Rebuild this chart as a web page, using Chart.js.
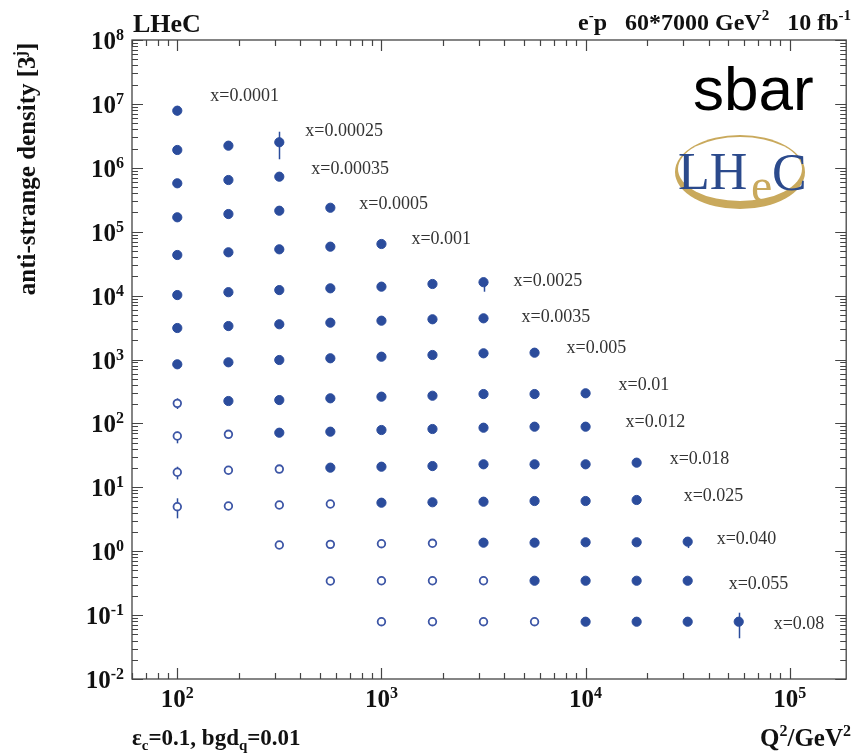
<!DOCTYPE html>
<html>
<head>
<meta charset="utf-8">
<script src="https://cdn.jsdelivr.net/npm/chart.js@4.4.1/dist/chart.umd.min.js"></script>
<style>
html, body { margin: 0; padding: 0; background: #fff; }
canvas { display: block; }
</style>
</head>
<body>
<canvas id="chart" width="852" height="753"></canvas>
<script>
// Q2 grid (GeV^2), one column of points per value
const Q2_BINS = [100, 178, 316, 562, 1000, 1778, 3162, 5623, 10000, 17783, 31623, 56234];

const X_LABELS = ["x=0.0001", "x=0.00025", "x=0.00035", "x=0.0005", "x=0.001",
    "x=0.0025", "x=0.0035", "x=0.005", "x=0.01", "x=0.012", "x=0.018",
    "x=0.025", "x=0.040", "x=0.055", "x=0.08"];

// index into Q2_BINS of the first point of each x row
const FIRST_BIN = [0, 0, 0, 0, 0, 0, 0, 0, 0, 0, 0, 0, 2, 3, 4];

// how many points at the start of each row are drawn open
const OPEN_COUNT = [0, 0, 0, 0, 0, 0, 0, 0, 1, 2, 3, 4, 4, 4, 4];

const DENSITY = [
    [7.83e6],
    [1.90e6, 2.22e6, 2.51e6],
    [5.72e5, 6.44e5, 7.26e5],
    [1.68e5, 1.89e5, 2.13e5, 2.37e5],
    [4.32e4, 4.76e4, 5.30e4, 5.83e4, 6.42e4],
    [1.02e4, 1.13e4, 1.22e4, 1.30e4, 1.38e4, 1.52e4, 1.62e4],
    [3110, 3340, 3560, 3770, 4050, 4260, 4410],
    [841, 904, 982, 1045, 1106, 1176, 1250, 1278],
    [206, 224, 232, 247, 262, 271, 288, 288, 296],
    [63.5, 67.5, 71.5, 74.2, 78.8, 81.7, 85.6, 88.8, 88.8],
    [17.2, 18.5, 19.3, 20.3, 21.0, 21.5, 22.9, 22.9, 22.9, 24.3],
    [4.97, 5.10, 5.28, 5.48, 5.74, 5.83, 5.95, 6.10, 6.10, 6.33],
    [1.25, 1.28, 1.31, 1.33, 1.36, 1.36, 1.38, 1.38, 1.41],
    [0.342, 0.345, 0.345, 0.345, 0.345, 0.345, 0.345, 0.345],
    [0.0788, 0.0788, 0.0788, 0.0788, 0.0788, 0.0788, 0.0788, 0.0788]
];

// [row, Q2 bin, low, high]
const ERROR_BARS = [
    [0, 0, 6.6e6, 9.3e6],
    [1, 2, 1.36e6, 3.67e6],
    [5, 6, 1.15e4, 1.89e4],
    [8, 0, 168, 247],
    [9, 0, 48.8, 74.2],
    [10, 0, 13.3, 21.0],
    [11, 0, 3.27, 6.73],
    [12, 10, 1.12, 1.67],
    [14, 11, 0.0434, 0.109]
];

const BLUE = "#2b4c9c";
const SERIF = "'Liberation Serif', 'DejaVu Serif', serif";

// label offset (px) from the last point of its row
const LABEL_SHIFT = [[33, -10], [26, -6], [32, -3], [29, 1], [30, 0], [30, 4], [38, 4],
    [32, 0], [33, -3], [40, 0], [33, 1], [47, 1], [29, 2], [41, 8], [35, 7]];


function drawRich(ctx, parts, x, y, align) {
    let total = 0;
    parts.forEach((p) => {
        ctx.font = "bold " + p.s + "px " + SERIF;
        p.w = ctx.measureText(p.t).width;
        total += p.w;
    });
    let cx = x;
    if (align == "right") cx = x - total;
    if (align == "center") cx = x - total / 2;
    ctx.textAlign = "left";
    ctx.textBaseline = "alphabetic";
    parts.forEach((p) => {
        ctx.font = "bold " + p.s + "px " + SERIF;
        ctx.fillText(p.t, cx, y + (p.dy || 0));
        cx += p.w;
    });
}

function powerParts(exp) {
    return [{t: "10", s: 25}, {t: String(exp), s: 16, dy: -9}];
}

function logTicks(min, max) {
    const out = [];
    for (let d = Math.floor(Math.log10(min)); d <= Math.ceil(Math.log10(max)); d++) {
        for (let m = 1; m <= 9; m++) {
            const v = m * Math.pow(10, d);
            if (v >= min * 0.999 && v <= max * 1.001) out.push({v: v, major: m == 1, exp: d});
        }
    }
    return out;
}

const errorBarPlugin = {
    id: "errorBars",
    beforeDatasetsDraw(chart) {
        const ctx = chart.ctx;
        const xs = chart.scales.x;
        const ys = chart.scales.y;
        ctx.save();
        ctx.strokeStyle = BLUE;
        ctx.lineWidth = 1.5;
        ERROR_BARS.forEach((e) => {
            const px = Math.round(xs.getPixelForValue(Q2_BINS[e[1]])) + 0.5;
            ctx.beginPath();
            ctx.moveTo(px, ys.getPixelForValue(e[2]));
            ctx.lineTo(px, ys.getPixelForValue(e[3]));
            ctx.stroke();
        });
        ctx.restore();
    }
};

const decorPlugin = {
    id: "decor",
    afterDraw(chart) {
        const ctx = chart.ctx;
        const a = chart.chartArea;
        const xs = chart.scales.x;
        const ys = chart.scales.y;
        ctx.save();

        // frame and ticks on all four sides
        ctx.strokeStyle = "#444";
        ctx.lineWidth = 1.3;
        ctx.strokeRect(a.left, a.top, a.right - a.left, a.bottom - a.top);
        ctx.lineWidth = 1.2;
        ctx.beginPath();
        logTicks(xs.min, xs.max).forEach((t) => {
            const px = Math.round(xs.getPixelForValue(t.v)) + 0.5;
            const len = t.major ? 11 : 6;
            ctx.moveTo(px, a.bottom); ctx.lineTo(px, a.bottom - len);
            ctx.moveTo(px, a.top); ctx.lineTo(px, a.top + len);
        });
        logTicks(ys.min, ys.max).forEach((t) => {
            const py = Math.round(ys.getPixelForValue(t.v)) + 0.5;
            const len = t.major ? 11 : 6;
            ctx.moveTo(a.left, py); ctx.lineTo(a.left + len, py);
            ctx.moveTo(a.right, py); ctx.lineTo(a.right - len, py);
        });
        ctx.stroke();

        // tick labels
        ctx.fillStyle = "#111";
        logTicks(xs.min, xs.max).filter((t) => t.major).forEach((t) => {
            drawRich(ctx, powerParts(t.exp), xs.getPixelForValue(t.v), a.bottom + 28, "center");
        });
        logTicks(ys.min, ys.max).filter((t) => t.major).forEach((t) => {
            drawRich(ctx, powerParts(t.exp), a.left - 8, ys.getPixelForValue(t.v) + 9, "right");
        });

        // axis titles and header texts
        drawRich(ctx, [{t: "Q", s: 25}, {t: "2", s: 16, dy: -10}, {t: "/GeV", s: 25},
            {t: "2", s: 16, dy: -10}], 851, 746, "right");
        drawRich(ctx, [{t: "\u03b5", s: 23}, {t: "c", s: 15, dy: 5}, {t: "=0.1, bgd", s: 23},
            {t: "q", s: 15, dy: 5}, {t: "=0.01", s: 23}], 132, 745, "left");
        drawRich(ctx, [{t: "LHeC", s: 26}], 133, 32, "left");
        drawRich(ctx, [{t: "e", s: 24}, {t: "-", s: 15, dy: -10}, {t: "p   60*7000 GeV", s: 24},
            {t: "2", s: 15, dy: -10}, {t: "   10 fb", s: 24}, {t: "-1", s: 15, dy: -10}],
            851, 30, "right");

        ctx.save();
        ctx.translate(35, 169);
        ctx.rotate(-Math.PI / 2);
        drawRich(ctx, [{t: "anti-strange density [3", s: 25}, {t: "j", s: 16, dy: -10},
            {t: "]", s: 25}], 0, 0, "center");
        ctx.restore();

        // x labels next to each row
        ctx.font = "18px " + SERIF;
        ctx.fillStyle = "#333";
        ctx.textAlign = "left";
        DENSITY.forEach((row, r) => {
            const last = row.length - 1;
            const px = xs.getPixelForValue(Q2_BINS[FIRST_BIN[r] + last]);
            const py = ys.getPixelForValue(row[last]);
            ctx.fillText(X_LABELS[r], px + LABEL_SHIFT[r][0], py + LABEL_SHIFT[r][1]);
        });

        // "sbar" tag
        ctx.fillStyle = "#000";
        ctx.font = "62px 'Liberation Sans', Arial, sans-serif";
        ctx.fillText("sbar", 693, 110);

        // LHeC logo
        ctx.fillStyle = "#c9a95c";
        ctx.beginPath();
        ctx.ellipse(740, 172, 65, 37, 0, 0, 2 * Math.PI);
        ctx.fill();
        ctx.fillStyle = "#fff";
        ctx.beginPath();
        ctx.ellipse(740, 169, 62, 32, 0, 0, 2 * Math.PI);
        ctx.fill();
        ctx.fillStyle = "#2b4a8c";
        ctx.font = "52px " + SERIF;
        ctx.fillText("LH", 678, 189);
        ctx.fillText("C", 772, 190);
        ctx.fillStyle = "#c9a95c";
        ctx.font = "48px " + SERIF;
        ctx.fillText("e", 751, 202);

        ctx.restore();
    }
};


class DensityChart {

    constructor(canvasId) {
        const self = this;
        self._canvasId = canvasId;
    }

    render() {
        const self = this;
        new Chart(document.getElementById(self._canvasId), self._getConfig());
    }

    _getDatasets() {
        return DENSITY.map((row, r) => {
            const isOpen = row.map((v, i) => i < OPEN_COUNT[r]);
            return {
                label: X_LABELS[r],
                data: row.map((v, i) => ({x: Q2_BINS[FIRST_BIN[r] + i], y: v})),
                showLine: false,
                pointStyle: "circle",
                pointRadius: isOpen.map((o) => o ? 3.8 : 4.6),
                pointBorderWidth: isOpen.map((o) => o ? 1.8 : 1),
                pointBackgroundColor: isOpen.map((o) => o ? "#fff" : BLUE),
                pointBorderColor: isOpen.map((o) => o ? "#3d56a6" : BLUE)
            };
        });
    }

    _getConfig() {
        const self = this;
        return {
            type: "scatter",
            data: {datasets: self._getDatasets()},
            options: {
                responsive: false,
                animation: false,
                layout: {padding: {left: 132, top: 40, right: 3, bottom: 74}},
                plugins: {legend: {display: false}, tooltip: {enabled: false}},
                scales: {
                    x: {type: "logarithmic", min: 60, max: 1.89e5, display: false},
                    y: {type: "logarithmic", min: 0.01, max: 1e8, display: false}
                }
            },
            plugins: [errorBarPlugin, decorPlugin]
        };
    }
}

new DensityChart("chart").render();
</script>
</body>
</html>
